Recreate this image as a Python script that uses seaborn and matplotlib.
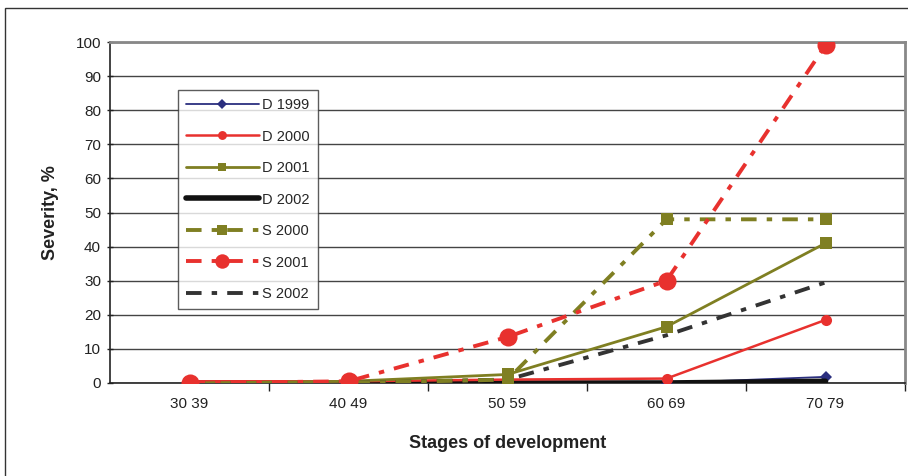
import matplotlib
matplotlib.use("Agg")
import matplotlib.pyplot as plt
import seaborn as sns
import pandas as pd
from matplotlib.patches import Rectangle

categories = ["30 39", "40 49", "50 59", "60 69", "70 79"]
d1999 = [0, 0, 0, 0, 1.8]
d2000 = [0.5, 0.5, 1, 1.3, 18.5]
d2001 = [0, 0.5, 2.5, 16.5, 41]
d2002 = [0, 0, 0, 0, 0.5]
s2000 = [0, 0, 1, 48, 48]
s2001 = [0, 0.5, 13.5, 30, 99]
s2002 = [0, 0, 1, 14, 29.5]

sns.set_theme(style="white")
plt.rcParams['font.family'] = ['Liberation Sans', 'DejaVu Sans']

fig = plt.figure(figsize=(9.08, 4.76), dpi=100)
ax = fig.add_axes([110/908, 1-383/476, 795/908, 341/476])

x = list(range(len(categories)))
dash = (4, 2.6, 1.4, 2.6)
series = [
    ("D 1999", d1999, dict(color="#2b2f7f", lw=1.3, marker="D", ms=6, dashes=None, z=3)),
    ("D 2000", d2000, dict(color="#e8312e", lw=1.8, marker="o", ms=8, dashes=None, z=4)),
    ("D 2001", d2001, dict(color="#7f7f22", lw=2.0, marker="s", ms=8, dashes=None, z=4)),
    ("D 2002", d2002, dict(color="#111111", lw=4.0, marker=None, ms=0, dashes=None, z=3)),
    ("S 2000", s2000, dict(color="#7f7f22", lw=2.8, marker="s", ms=9, dashes=dash, z=5)),
    ("S 2001", s2001, dict(color="#e8312e", lw=2.8, marker="o", ms=13, dashes=dash, z=6)),
    ("S 2002", s2002, dict(color="#333333", lw=2.8, marker=None, ms=0, dashes=dash, z=4)),
]

for name, vals, st in series:
    df = pd.DataFrame({"x": x, "y": vals})
    kw = dict(color=st["color"], linewidth=st["lw"], label=name, zorder=st["z"])
    if st["marker"]:
        kw.update(marker=st["marker"], markersize=st["ms"], markeredgewidth=0)
    sns.lineplot(data=df, x="x", y="y", ax=ax, **kw)
    if st["dashes"]:
        ax.lines[-1].set_dashes(st["dashes"])

ax.set_xlim(-0.5, 4.5)
ax.set_ylim(0, 100)
ax.set_yticks(range(0, 101, 10))
ax.set_xticks(x)
ax.set_xticklabels(categories)
ax.set_xticks([0.5, 1.5, 2.5, 3.5, 4.5], minor=True)
ax.tick_params(axis="x", which="major", length=0, pad=10, labelsize=11, colors="#222222")
ax.tick_params(axis="x", which="minor", length=6, width=1, color="#222222", direction="out", bottom=True)
ax.tick_params(axis="y", length=5, width=1, color="#222222", direction="inout", left=True, labelsize=11, pad=4, labelcolor="#222222")

ax.grid(axis="y", color="#444444", linewidth=1.0)
ax.set_axisbelow(True)
for s in ["left", "bottom"]:
    ax.spines[s].set_color("#222222")
    ax.spines[s].set_linewidth(1.2)
for s in ["top", "right"]:
    ax.spines[s].set_color("#888888")
    ax.spines[s].set_linewidth(2.0)

ax.set_xlabel("Stages of development", fontsize=13, fontweight="bold", labelpad=17, color="#222222")
ax.set_ylabel("Severity, %", fontsize=13, fontweight="bold", labelpad=12, color="#222222")

leg = ax.legend(loc="upper left", bbox_to_anchor=((178-110)/795, (383-90)/341), borderaxespad=0,
                frameon=True, fancybox=False, edgecolor="#333333", fontsize=10.5,
                handlelength=5, labelspacing=1.2, handletextpad=0.2, borderpad=0.55, markerscale=0.8)
leg.get_frame().set_linewidth(1.0)
leg.set_zorder(10)

fig.patches.append(Rectangle((5/908, -0.1), 1.2, 1.1 - 8/476, transform=fig.transFigure,
                             fill=False, edgecolor="#333333", linewidth=1.0, clip_on=False))

fig.savefig("out.png", dpi=100)
